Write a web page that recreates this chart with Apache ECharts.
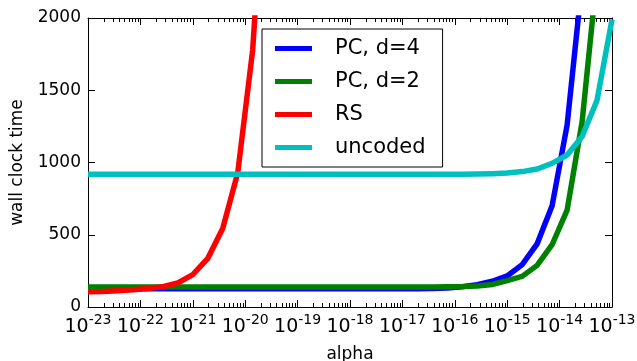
<!DOCTYPE html>
<html><head><meta charset="utf-8">
<script src="https://cdn.jsdelivr.net/npm/echarts@6/dist/echarts.min.js"></script>
<style>html,body{margin:0;padding:0;background:#fff}#c{width:637px;height:361px}</style>
</head><body><div id="c"></div>
<script>
// log10(alpha) sample points
const alphaExp = [-23, -22.714, -22.429, -22.143, -21.857, -21.571, -21.286, -21, -20.714, -20.429,
  -20.143, -19.857, -19.571, -19.286, -19, -18.714, -18.429, -18.143, -17.857, -17.571,
  -17.286, -17, -16.714, -16.429, -16.143, -15.857, -15.571, -15.286, -15, -14.714,
  -14.429, -14.143, -13.857, -13.571, -13.286, -13];
const pc4 = [126,126,126,126,126,126,126,126,126,126,126,126,126,126,126,126,126,126,126,126,
  126,126,126,128,132,140,155,178,215,293,437,700,1258,2250,4000,7200];
const pc2 = [138,138,138,138,138,138,138,138,138,138,138,138,138,138,138,138,138,138,138,138,
  138,138,138,139,140,141,146,156,182,212,288,431,670,1280,2300,4200];
const rs = [105,107,112,119,128,141,167,224,337,543,927,1780,3400,6500,12400];
const uncoded = [918,918,918,918,918,918,918,918,918,918,918,918,918,918,918,918,918,918,918,918,
  918,918,918,918,918,918,920,923,928,937,955,994,1052,1180,1430,1990];
const seriesNames = ['PC, d=4', 'PC, d=2', 'RS', 'uncoded'];
const seriesColors = ['#0000ff', '#008000', '#ff0000', '#00bfbf'];
const seriesValues = [pc4, pc2, rs, uncoded];
const yTicks = [0, 500, 1000, 1500, 2000];
const xMajor = [-23, -22, -21, -20, -19, -18, -17, -16, -15, -14, -13];
const minorMult = [2, 3, 4, 5, 6, 7, 8, 9];

const xMinor = [];
for (let d = -23; d < -13; d++) minorMult.forEach(m => xMinor.push(d + Math.log10(m)));

const FONT = 'DejaVu Sans';
const chart = echarts.init(document.getElementById('c'), null, {renderer: 'canvas'});
const baseX = {type: 'value', min: -23, max: -13, interval: 1, gridIndex: 0,
  splitLine: {show: false}};
chart.setOption({
  animation: false,
  backgroundColor: '#fff',
  grid: {left: 88, right: 25, top: 18, bottom: 54, outerBoundsMode: 'none', containLabel: false},
  legend: {
    orient: 'vertical', left: 262, top: 29,
    padding: [9, 17, 9, 13],
    itemGap: 12, itemWidth: 37, itemHeight: 5, icon: 'rect',
    borderColor: '#000', borderWidth: 1, backgroundColor: '#fff',
    textStyle: {fontFamily: FONT, fontSize: 21, color: '#000', padding: [0, 0, 0, 18]},
    data: seriesNames
  },
  xAxis: [
    Object.assign({}, baseX, {position: 'bottom',
      name: 'alpha', nameLocation: 'middle', nameGap: 39,
      nameTextStyle: {fontFamily: FONT, fontSize: 17, color: '#000'},
      axisLine: {show: true, lineStyle: {color: '#000', width: 1}},
      axisTick: {show: true, inside: true, length: 7, customValues: xMajor, lineStyle: {color: '#000'}},
      axisLabel: {show: true, margin: 6, customValues: xMajor,
        formatter: v => '{b|10}{s|' + Math.round(v) + '}',
        rich: {b: {fontFamily: FONT, fontSize: 19, color: '#000', lineHeight: 24, verticalAlign: 'bottom'},
               s: {fontFamily: FONT, fontSize: 14, color: '#000', lineHeight: 12, verticalAlign: 'top'}}}}),
    Object.assign({}, baseX, {position: 'bottom',
      axisLine: {show: false},
      axisTick: {show: true, inside: true, length: 4, customValues: xMinor, lineStyle: {color: '#000'}},
      axisLabel: {show: false}}),
    Object.assign({}, baseX, {position: 'top',
      axisLine: {show: true, lineStyle: {color: '#000', width: 1}},
      axisTick: {show: true, inside: true, length: 7, customValues: xMajor, lineStyle: {color: '#000'}},
      axisLabel: {show: false}}),
    Object.assign({}, baseX, {position: 'top',
      axisLine: {show: false},
      axisTick: {show: true, inside: true, length: 4, customValues: xMinor, lineStyle: {color: '#000'}},
      axisLabel: {show: false}})
  ],
  yAxis: [
    {type: 'value', min: 0, max: 2000, interval: 500, position: 'left',
      name: 'wall clock time', nameLocation: 'middle', nameGap: 62, nameRotate: 90,
      nameTextStyle: {fontFamily: FONT, fontSize: 17, color: '#000'},
      splitLine: {show: false},
      axisLine: {show: true, lineStyle: {color: '#000', width: 1}},
      axisTick: {show: true, inside: true, length: 7, lineStyle: {color: '#000'}},
      axisLabel: {show: true, margin: 7, fontFamily: FONT, fontSize: 17, color: '#000',
        customValues: yTicks, formatter: v => String(v)}},
    {type: 'value', min: 0, max: 2000, interval: 500, position: 'right',
      splitLine: {show: false},
      axisLine: {show: true, lineStyle: {color: '#000', width: 1}},
      axisTick: {show: true, inside: true, length: 7, lineStyle: {color: '#000'}},
      axisLabel: {show: false}}
  ],
  series: seriesNames.map((name, si) => ({
    name: name, type: 'line', xAxisIndex: 0, yAxisIndex: 0,
    symbol: 'none', clip: true, z: 2 + si,
    itemStyle: {color: seriesColors[si]},
    lineStyle: {color: seriesColors[si], width: 5.5, join: 'miter'},
    data: seriesValues[si].map((v, i) => [alphaExp[i], v])
  }))
});
</script></body></html>
